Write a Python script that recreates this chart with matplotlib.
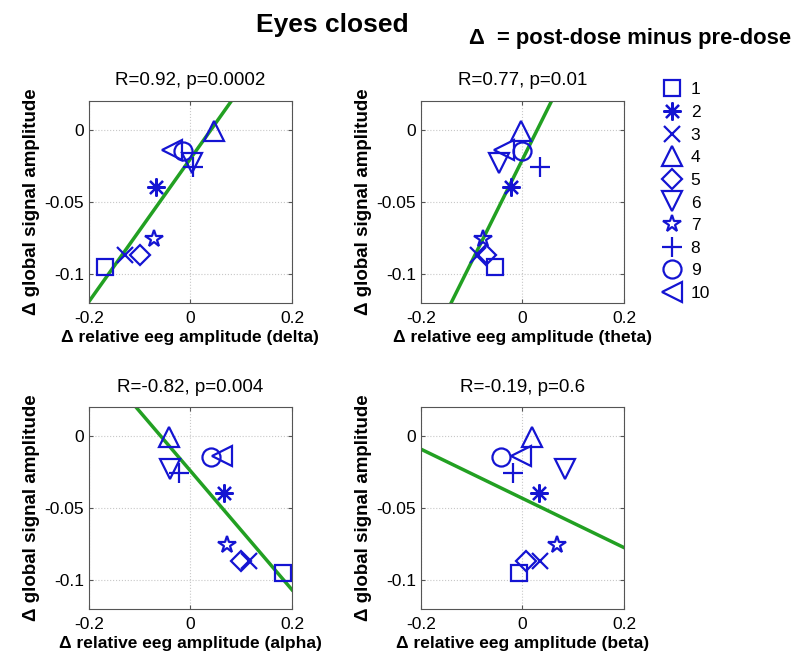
import numpy as np
import matplotlib
matplotlib.use("Agg")
import matplotlib.pyplot as plt

plt.rcParams['font.family'] = ['Liberation Sans', 'DejaVu Sans']

# subjects 1..10
subjects = [str(i) for i in range(1, 11)]

# change in global signal amplitude (same for every panel)
gs_amp = [-0.095, -0.040, -0.087, -0.001, -0.087, -0.023, -0.076, -0.026, -0.0145, -0.014]

# change in relative eeg amplitude per band
eeg_delta = [-0.168, -0.067, -0.129, 0.046, -0.099, 0.004, -0.071, 0.006, -0.014, -0.036]
eeg_theta = [-0.053, -0.022, -0.087, -0.003, -0.071, -0.046, -0.077, 0.034, 0.000, -0.036]
eeg_alpha = [0.182, 0.067, 0.115, -0.042, 0.099, -0.040, 0.073, -0.022, 0.040, 0.063]
eeg_beta = [-0.006, 0.032, 0.034, 0.018, 0.008, 0.083, 0.068, -0.018, -0.042, -0.002]

bands = ['delta', 'theta', 'alpha', 'beta']
stats = ['R=0.92, p=0.0002', 'R=0.77, p=0.01', 'R=-0.82, p=0.004', 'R=-0.19, p=0.6']

markers = ['s', (8, 2, 0), 'x', '^', 'D', 'v', '*', '+', 'o', '<']
msizes = [11, 13, 11, 15, 10, 15, 13, 15, 13, 15]

blue = '#1414d2'
green = '#22a022'

fig = plt.figure(figsize=(8, 6.67), dpi=100)

# axes boxes in figure fraction [left, bottom, width, height]
boxes = [[0.111, 0.546, 0.254, 0.303],
         [0.526, 0.546, 0.254, 0.303],
         [0.111, 0.087, 0.254, 0.303],
         [0.526, 0.087, 0.254, 0.303]]

xs_all = [eeg_delta, eeg_theta, eeg_alpha, eeg_beta]
axes = []
for k in range(4):
    ax = fig.add_axes(boxes[k])
    axes.append(ax)
    xv = np.array(xs_all[k])
    yv = np.array(gs_amp)
    ax.grid(True, color='#c8c8c8', linestyle=':', linewidth=0.8)
    ax.set_axisbelow(True)
    for i in range(len(subjects)):
        ax.plot(xv[i], yv[i], linestyle='none', marker=markers[i],
                markersize=msizes[i], markerfacecolor='none',
                markeredgecolor=blue, markeredgewidth=1.6,
                label=subjects[i])
    # least squares line
    slope, icpt = np.polyfit(xv, yv, 1)
    xl = np.array([-0.2, 0.2])
    ax.plot(xl, slope * xl + icpt, color=green, linewidth=2.5, zorder=1)
    ax.set_xlim(-0.2, 0.2)
    ax.set_ylim(-0.12, 0.02)
    ax.set_xticks([-0.2, 0, 0.2])
    ax.set_xticklabels(['-0.2', '0', '0.2'])
    ax.set_yticks([-0.1, -0.05, 0])
    ax.set_yticklabels(['-0.1', '-0.05', '0'])
    ax.tick_params(direction='in', top=True, right=True, labelsize=12.5,
                   length=3, color='#555555')
    ax.tick_params(axis='x', pad=6)
    for sp in ax.spines.values():
        sp.set_color('#555555')
    ax.set_title(stats[k], fontsize=13.5, pad=11)
    ax.set_xlabel('\u0394 relative eeg amplitude (' + bands[k] + ')',
                  fontsize=12.5, fontweight='bold', labelpad=3)
    ax.set_ylabel('\u0394 global signal amplitude', fontsize=13.5,
                  fontweight='bold', labelpad=3)

handles, labels = axes[0].get_legend_handles_labels()
fig.legend(handles, labels, loc='upper left', bbox_to_anchor=(0.82, 0.887),
           frameon=False, fontsize=12.5, handlelength=1.0, handletextpad=0.6,
           labelspacing=0.43, borderaxespad=0)

fig.text(0.415, 0.9625, 'Eyes closed', fontsize=19, fontweight='bold',
         ha='center', va='center')
fig.text(0.7875, 0.943, '\u0394  = post-dose minus pre-dose', fontsize=15.8,
         fontweight='bold', ha='center', va='center')

fig.savefig('out.png', dpi=100)
